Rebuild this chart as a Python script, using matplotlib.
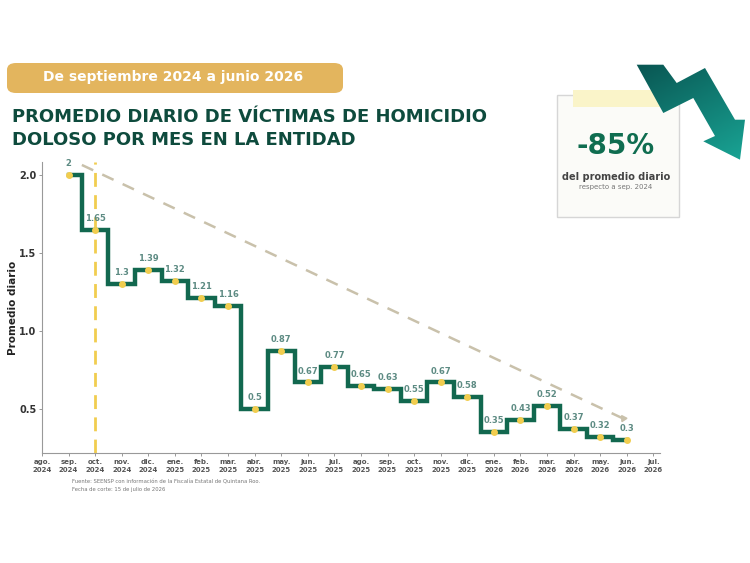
import numpy as np
import matplotlib
matplotlib.use('Agg')
import matplotlib.pyplot as plt
from matplotlib.patches import Polygon, FancyBboxPatch, Rectangle
from matplotlib.colors import LinearSegmentedColormap

# data
months = ['ago.', 'sep.', 'oct.', 'nov.', 'dic.', 'ene.', 'feb.', 'mar.', 'abr.', 'may.', 'jun.', 'jul.',
          'ago.', 'sep.', 'oct.', 'nov.', 'dic.', 'ene.', 'feb.', 'mar.', 'abr.', 'may.', 'jun.', 'jul.']
years = ['2024'] * 5 + ['2025'] * 12 + ['2026'] * 7
values = [2, 1.65, 1.3, 1.39, 1.32, 1.21, 1.16, 0.5, 0.87, 0.67, 0.77, 0.65,
          0.63, 0.55, 0.67, 0.58, 0.35, 0.43, 0.52, 0.37, 0.32, 0.3]
value_labels = ['2', '1.65', '1.3', '1.39', '1.32', '1.21', '1.16', '0.5', '0.87', '0.67', '0.77', '0.65',
                '0.63', '0.55', '0.67', '0.58', '0.35', '0.43', '0.52', '0.37', '0.32', '0.3']
first_idx = 1  # sep. 2024
trend_start = (1.5, 2.064)
trend_end = (21.85, 0.44)

W, H = 750, 563
fx = lambda x: x / W
fy = lambda y: 1 - y / H

green = '#12684f'
dark = '#0e4b3d'
yellow = '#f1cd4f'

fig = plt.figure(figsize=(7.5, 5.63), dpi=100)
fig.patch.set_facecolor('white')

ax = fig.add_axes([fx(42), fy(453), (660 - 42) / W, (453 - 162) / H])
x = np.arange(first_idx, first_idx + len(values))

ax.plot([2, 2], [0.218, 2.08], color=yellow, lw=2, dashes=(5, 3), zorder=1)
ax.plot([trend_start[0], trend_end[0]], [trend_start[1], trend_end[1]],
        color='#c9c1ab', lw=1.8, dashes=(5, 4), zorder=1)
ax.plot([trend_end[0]], [trend_end[1]], marker=(3, 0, 33), color='#c9c1ab', ms=5, zorder=1)
ax.step(x, values, where='mid', color=green, lw=3.2, zorder=2, solid_joinstyle='miter')
ax.plot(x, values, 'o', color=yellow, ms=5, mec='none', zorder=3)
for xi, v, lab in zip(x, values, value_labels):
    ax.annotate(lab, (xi, v), xytext=(0, 5), textcoords='offset points', ha='center', va='bottom',
                fontsize=6, color='#5d8b83', fontweight='bold', zorder=4)

ax.set_xlim(0, 23.25)
ax.set_ylim(0.218, 2.083)
ax.set_yticks([0.5, 1.0, 1.5, 2.0])
ax.set_yticklabels(['0.5', '1.0', '1.5', '2.0'], fontsize=7, fontweight='bold', color='#333333')
ax.set_xticks(range(len(months)))
ax.set_xticklabels([m + '\n' + y for m, y in zip(months, years)], fontsize=5, fontweight='bold',
                   color='#555555', linespacing=1.5)
ax.tick_params(axis='both', length=2, width=0.6, color='#888888', pad=2)
for s in ['top', 'right']:
    ax.spines[s].set_visible(False)
for s in ['left', 'bottom']:
    ax.spines[s].set_color('#999999')
    ax.spines[s].set_linewidth(0.8)
ax.set_ylabel('Promedio diario', fontsize=7.5, fontweight='bold', color='#222222', labelpad=1)

# header band
band = FancyBboxPatch((fx(7), fy(93)), fx(343) - fx(7), fy(63) - fy(93),
                      boxstyle='round,pad=0,rounding_size=0.012', transform=fig.transFigure,
                      facecolor='#e3b55e', edgecolor='none')
fig.patches.append(band)
fig.text(fx(173), fy(77), 'De septiembre 2024 a junio 2026', ha='center', va='center',
         fontsize=10, fontweight='bold', color='white')
fig.text(fx(12), fy(117), 'PROMEDIO DIARIO DE VÍCTIMAS DE HOMICIDIO', ha='left', va='center',
         fontsize=13, fontweight='heavy', color=dark)
fig.text(fx(12), fy(140), 'DOLOSO POR MES EN LA ENTIDAD', ha='left', va='center',
         fontsize=13, fontweight='heavy', color=dark)

# card
fig.patches.append(Rectangle((fx(557), fy(217)), fx(679) - fx(557), fy(95) - fy(217),
                             transform=fig.transFigure, facecolor='#fbfbf8', edgecolor='#d6d6d6', lw=1))
fig.patches.append(Rectangle((fx(573), fy(107)), fx(660) - fx(573), fy(90) - fy(107),
                             transform=fig.transFigure, facecolor='#faf4c9', edgecolor='none'))
fig.text(fx(616), fy(146), '-85%', ha='center', va='center', fontsize=20, fontweight='heavy', color='#0f6d50')
fig.text(fx(616), fy(177), 'del promedio diario', ha='center', va='center', fontsize=7, color='#444444',
         fontweight='semibold')
fig.text(fx(616), fy(187), 'respecto a sep. 2024', ha='center', va='center', fontsize=5, color='#777777')

# zigzag arrow (drawn above the card)
pts = [(636.7, 64.7), (663.3, 64.7), (676.7, 83), (705, 68), (735, 119.7), (745, 119.7),
       (740, 159.7), (703.3, 141.3), (715, 136), (693.3, 98), (663.3, 113)]
grad_ax = fig.add_axes([0, 0, 1, 1], zorder=5)
grad_ax.set_axis_off()
grad_ax.patch.set_alpha(0)
grad_ax.set_xlim(0, 1)
grad_ax.set_ylim(0, 1)
poly = Polygon([(fx(a), fy(b)) for a, b in pts], closed=True, transform=grad_ax.transData,
               facecolor='none', edgecolor='none')
grad_ax.add_patch(poly)
grad = np.linspace(0, 1, 100).reshape(-1, 1) * np.ones((1, 100))
grad = (grad + np.linspace(0, 0.6, 100).reshape(1, -1)) / 1.6
im = grad_ax.imshow(grad, extent=[fx(630), fx(750), fy(165), fy(60)], origin='upper',
                    cmap=LinearSegmentedColormap.from_list('g', ['#08524f', '#1aa898']),
                    aspect='auto')
im.set_clip_path(poly)

# footnote
fig.text(fx(72), fy(482), 'Fuente: SEENSP con información de la Fiscalía Estatal de Quintana Roo.',
         fontsize=3.8, color='#777777', va='center')
fig.text(fx(72), fy(490), 'Fecha de corte: 15 de julio de 2026', fontsize=3.8, color='#777777', va='center')

fig.savefig('out.png', dpi=100, facecolor='white')
